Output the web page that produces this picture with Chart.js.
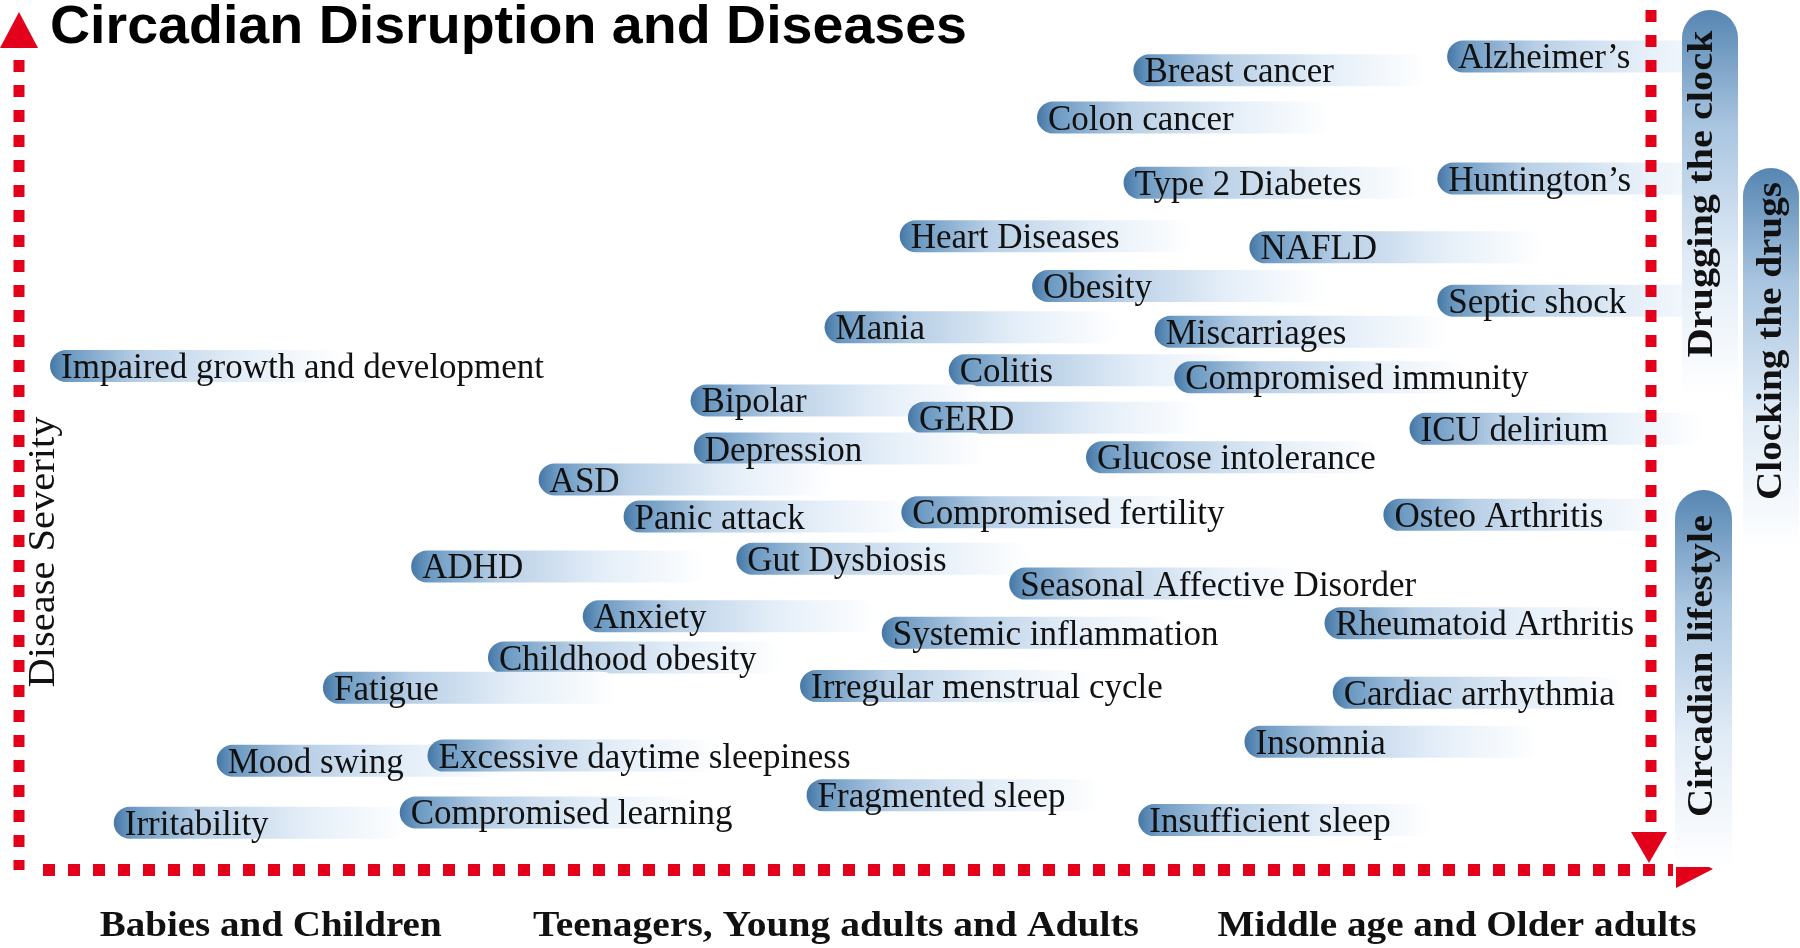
<!DOCTYPE html>
<html>
<head>
<meta charset="utf-8">
<script src="https://cdn.jsdelivr.net/npm/chart.js@4.4.0/dist/chart.umd.min.js"></script>
<style>
  html, body { margin: 0; padding: 0; background: #fff; }
  #wrap { width: 1800px; height: 948px; position: relative; }
</style>
</head>
<body>
<div id="wrap"><canvas id="chart"></canvas></div>
<script>
// disease labels, their position along life stage (x) and severity (y), both 0-100
const diseases = [
    'Breast cancer', 'Alzheimer\u2019s', 'Colon cancer', 'Type 2 Diabetes', 'Huntington\u2019s',
    'Heart Diseases', 'NAFLD', 'Obesity', 'Septic shock', 'Mania',
    'Miscarriages', 'Impaired growth and development', 'Colitis', 'Compromised immunity', 'Bipolar',
    'GERD', 'ICU delirium', 'Depression', 'Glucose intolerance', 'ASD',
    'Panic attack', 'Compromised fertility', 'Osteo Arthritis', 'ADHD', 'Gut Dysbiosis',
    'Seasonal Affective Disorder', 'Anxiety', 'Systemic inflammation', 'Rheumatoid Arthritis', 'Childhood obesity',
    'Fatigue', 'Irregular menstrual cycle', 'Cardiac arrhythmia', 'Insomnia', 'Mood swing',
    'Excessive daytime sleepiness', 'Fragmented sleep', 'Irritability', 'Compromised learning', 'Insufficient sleep'
]

const lifeStage = [
    68.2, 87.4, 62.3, 67.6, 86.8,
    53.9, 75.3, 62.0, 86.8, 49.3,
    69.5, 1.9, 56.9, 70.7, 41.1,
    54.4, 85.1, 41.3, 65.3, 31.8,
    37.0, 54.0, 83.5, 24.0, 43.9,
    60.6, 34.5, 52.8, 79.9, 28.7,
    18.6, 47.8, 80.4, 75.0, 12.1,
    25.0, 48.2, 5.8, 23.3, 68.5
]

const severity = [
    93.0, 94.6, 87.5, 79.9, 80.4,
    73.7, 72.4, 67.9, 66.2, 63.1,
    62.6, 58.6, 58.1, 57.3, 54.6,
    52.6, 51.3, 49.0, 48.0, 45.4,
    41.1, 41.6, 41.3, 35.3, 36.2,
    33.3, 29.5, 27.6, 28.7, 24.7,
    21.2, 21.4, 20.6, 14.9, 12.7,
    13.3, 8.7, 5.5, 6.7, 5.8
]

const groupLabels = ['Babies and Children', 'Teenagers, Young adults and Adults', 'Middle age and Older adults']
const groupCenters = [15.4, 50.0, 88.0]

const strategies = ['Drugging the clock', 'Clocking the drugs', 'Circadian lifestyle']

const chartTitle = 'Circadian Disruption and Diseases'
const yTitle = 'Disease Severity'

const RED = '#e3001b'
const SERIF = '"Liberation Serif", "DejaVu Serif", serif'
const SANS = '"Liberation Sans", Arial, sans-serif'

// draw text squeezed/stretched to a given width
function fitText(ctx, text, x, y, width, angle) {
    ctx.save();
    ctx.translate(x, y);
    if (angle) ctx.rotate(angle);
    const w = ctx.measureText(text).width;
    ctx.scale(width / w, 1);
    ctx.fillText(text, 0, 0);
    ctx.restore();
}

function pillPath(ctx, x, y, w, h, r) {
    ctx.beginPath();
    ctx.moveTo(x + r, y);
    ctx.lineTo(x + w - r, y);
    ctx.arc(x + w - r, y + r, r, -Math.PI / 2, Math.PI / 2);
    ctx.lineTo(x + r, y + h);
    ctx.arc(x + r, y + r, r, Math.PI / 2, Math.PI * 1.5);
    ctx.closePath();
}

function topRoundPath(ctx, x, y, w, h) {
    const r = w / 2;
    ctx.beginPath();
    ctx.moveTo(x, y + h);
    ctx.lineTo(x, y + r);
    ctx.arc(x + r, y + r, r, Math.PI, 0);
    ctx.lineTo(x + w, y + h);
    ctx.closePath();
}

const pillPlugin = {
    id: 'pills',
    afterDatasetsDraw(chart) {
        const ctx = chart.ctx;
        const points = chart.getDatasetMeta(0).data;
        const len = 295, h = 32;
        ctx.save();
        points.forEach((pt) => {
            const g = ctx.createLinearGradient(pt.x, 0, pt.x + len, 0);
            g.addColorStop(0, '#4677a5');
            g.addColorStop(0.06, '#6b99c2');
            g.addColorStop(0.3, '#b8cfe6');
            g.addColorStop(0.65, '#e4eef8');
            g.addColorStop(1, '#ffffff');
            ctx.fillStyle = g;
            pillPath(ctx, pt.x, pt.y - h / 2, len, h, h / 2);
            ctx.fill();
        });
        ctx.fillStyle = '#111';
        ctx.font = '35px ' + SERIF;
        ctx.textAlign = 'left';
        ctx.textBaseline = 'alphabetic';
        points.forEach((pt, i) => {
            ctx.fillText(diseases[i], pt.x + 11, pt.y + 12);
        });
        ctx.restore();
    }
};

const framePlugin = {
    id: 'frame',
    afterDraw(chart) {
        const ctx = chart.ctx;
        const {left, right, top, bottom} = chart.chartArea;
        const xs = chart.scales.x;
        ctx.save();

        // dotted axes
        ctx.strokeStyle = RED;
        ctx.fillStyle = RED;
        ctx.lineCap = 'butt';
        ctx.lineWidth = 11;
        ctx.setLineDash([12, 13]);
        ctx.beginPath();
        ctx.moveTo(left, top + 50);
        ctx.lineTo(left, bottom);
        ctx.stroke();

        ctx.beginPath();
        ctx.moveTo(right - 2, top);
        ctx.lineTo(right - 2, bottom - 36);
        ctx.stroke();

        ctx.lineWidth = 12;
        ctx.beginPath();
        ctx.moveTo(left + 24, bottom);
        ctx.lineTo(right + 20, bottom);
        ctx.stroke();
        ctx.setLineDash([]);

        // arrow heads
        ctx.beginPath();
        ctx.moveTo(left, top + 2);
        ctx.lineTo(left + 19, top + 38);
        ctx.lineTo(left - 19, top + 38);
        ctx.closePath();
        ctx.fill();

        ctx.beginPath();
        ctx.moveTo(right + 60, bottom - 1);
        ctx.lineTo(right + 23, bottom - 20);
        ctx.lineTo(right + 23, bottom + 18);
        ctx.closePath();
        ctx.fill();

        ctx.beginPath();
        ctx.moveTo(right - 4, bottom - 7);
        ctx.lineTo(right - 22, bottom - 38);
        ctx.lineTo(right + 14, bottom - 38);
        ctx.closePath();
        ctx.fill();

        // strategy bars on the right
        const bars = [
            {x: 1682, y: 10, w: 56, h: 385, base: 1712, cy: 194, tw: 327},
            {x: 1743, y: 168, w: 56, h: 382, base: 1781, cy: 341, tw: 318},
            {x: 1675, y: 490, w: 57, h: 377, base: 1712, cy: 666, tw: 302}
        ];
        bars.forEach((b, i) => {
            const g = ctx.createLinearGradient(0, b.y, 0, b.y + b.h);
            g.addColorStop(0, '#5686b2');
            g.addColorStop(0.3, '#a9c5e0');
            g.addColorStop(0.65, '#e0ebf6');
            g.addColorStop(1, '#ffffff');
            ctx.fillStyle = g;
            topRoundPath(ctx, b.x, b.y, b.w, b.h);
            ctx.fill();
            ctx.fillStyle = '#111';
            ctx.font = 'bold 36px ' + SERIF;
            ctx.textAlign = 'center';
            ctx.textBaseline = 'alphabetic';
            fitText(ctx, strategies[i], b.base, b.cy, b.tw, -Math.PI / 2);
        });

        // y axis title
        ctx.fillStyle = '#111';
        ctx.font = '38px ' + SERIF;
        ctx.textAlign = 'center';
        fitText(ctx, yTitle, left + 35, 552, 271, -Math.PI / 2);

        // life stage labels under the x axis
        const widths = [342, 606, 479];
        ctx.font = 'bold 36px ' + SERIF;
        groupLabels.forEach((lab, i) => {
            fitText(ctx, lab, xs.getPixelForValue(groupCenters[i]), bottom + 66, widths[i]);
        });

        // title
        ctx.font = 'bold 53px ' + SANS;
        ctx.textAlign = 'left';
        ctx.fillStyle = '#000';
        fitText(ctx, chartTitle, 50, 43, 917);

        ctx.restore();
    }
};

const chart = new Chart(document.getElementById('chart'), {
    type: 'scatter',
    data: {
        datasets: [{
            data: diseases.map((d, i) => ({x: lifeStage[i], y: severity[i]})),
            pointRadius: 0,
            pointHoverRadius: 0
        }]
    },
    plugins: [pillPlugin, framePlugin],
    options: {
        responsive: true,
        maintainAspectRatio: false,
        animation: false,
        devicePixelRatio: 1,
        layout: {
            padding: {left: 19, right: 147, top: 10, bottom: 78}
        },
        scales: {
            x: {type: 'linear', min: 0, max: 100, display: false},
            y: {type: 'linear', min: 0, max: 100, display: false}
        },
        plugins: {
            legend: {display: false},
            tooltip: {enabled: false}
        }
    }
});
</script>
</body>
</html>
